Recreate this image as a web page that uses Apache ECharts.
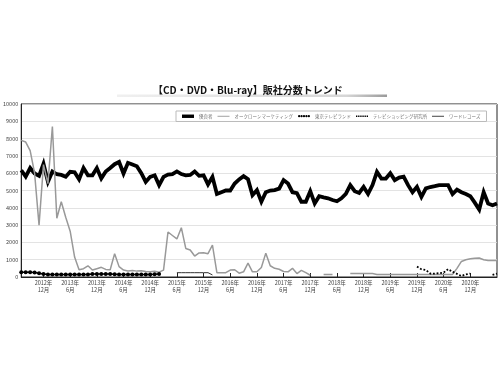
<!DOCTYPE html>
<html>
<head>
<meta charset="utf-8">
<script src="https://cdn.jsdelivr.net/npm/echarts@6/dist/echarts.min.js"></script>
<style>
html,body{margin:0;padding:0;background:#fff;}
#chart{width:500px;height:375px;}
</style>
</head>
<body>
<div id="chart"></div>
<script>
const FONT = '"Noto Sans CJK JP", "Noto Sans", sans-serif';

const titleText = '【CD・DVD・Blu-ray】販社分数トレンド';
const seriesNames = ['優良者', 'オークローンマーケティング', '東京テレビランド', 'テレビショッピング研究所', 'ワードレコーズ'];

const categories = [
  '2012/7','2012/8','2012/9','2012/10','2012/11','2012/12',
  '2013/1','2013/2','2013/3','2013/4','2013/5','2013/6','2013/7','2013/8','2013/9','2013/10','2013/11','2013/12',
  '2014/1','2014/2','2014/3','2014/4','2014/5','2014/6','2014/7','2014/8','2014/9','2014/10','2014/11','2014/12',
  '2015/1','2015/2','2015/3','2015/4','2015/5','2015/6','2015/7','2015/8','2015/9','2015/10','2015/11','2015/12',
  '2016/1','2016/2','2016/3','2016/4','2016/5','2016/6','2016/7','2016/8','2016/9','2016/10','2016/11','2016/12',
  '2017/1','2017/2','2017/3','2017/4','2017/5','2017/6','2017/7','2017/8','2017/9','2017/10','2017/11','2017/12',
  '2018/1','2018/2','2018/3','2018/4','2018/5','2018/6','2018/7','2018/8','2018/9','2018/10','2018/11','2018/12',
  '2019/1','2019/2','2019/3','2019/4','2019/5','2019/6','2019/7','2019/8','2019/9','2019/10','2019/11','2019/12',
  '2020/1','2020/2','2020/3','2020/4','2020/5','2020/6','2020/7','2020/8','2020/9','2020/10','2020/11','2020/12',
  '2021/1','2021/2','2021/3','2021/4','2021/5','2021/6'
];

const yuryosha = [
  6170,5800,6300,5980,5850,6550,5500,6100,5940,5900,5800,6080,6050,5650,6300,5880,5880,6300,
  5700,6100,6300,6520,6650,5980,6600,6500,6400,6000,5500,5790,5880,5310,5790,5920,5950,6100,
  5950,5880,5900,6100,5850,5880,5350,5790,4800,4900,5000,5000,5400,5640,5830,5650,4730,5020,
  4350,4900,5000,5020,5110,5600,5400,4900,4850,4350,4350,4960,4250,4670,4600,4550,4450,4380,
  4550,4800,5310,4960,4860,5210,4800,5310,6080,5690,5690,6000,5600,5750,5800,5310,4900,5210,
  4630,5120,5200,5250,5310,5310,5310,4790,5050,4900,4800,4670,4300,3900,4900,4250,4150,4250
];

const oakLawn = [
  7900,7800,7300,6000,3000,6500,5400,8700,3400,4350,3450,2650,1150,420,480,650,400,480,
  560,440,420,1350,600,400,350,380,340,360,320,300,330,280,400,2600,2400,2200,
  2850,1650,1560,1210,1390,1400,1350,1850,250,250,250,400,420,220,300,800,300,300,
  550,1380,650,500,450,320,300,500,200,380,250,100,null,null,150,150,150,null,
  null,null,200,200,200,200,200,200,150,150,150,150,150,150,150,150,150,150,
  150,150,150,150,150,150,150,150,500,900,1000,1050,1080,1100,1000,950,950,950
];

const tokyoTvLand = [
  270,270,270,260,220,170,150,150,150,150,150,150,150,150,150,150,170,180,
  180,180,170,160,150,150,150,150,150,150,150,150,160,170,null,null,null,null,
  null,null,null,null,null,null,null,null,null,null,null,null,null,null,null,null,null,null,
  null,null,null,null,null,null,null,null,null,null,null,null,null,null,null,null,null,null,
  null,null,null,null,null,null,null,null,null,null,null,null,null,null,null,null,null,null,
  null,null,null,null,null,null,null,null,null,null,null,null,null,null,null,null,null,null
];

const tvShoppingLab = [
  null,null,null,null,null,null,null,null,null,null,null,null,null,null,null,null,null,null,
  null,null,null,null,null,null,null,null,null,null,null,null,null,null,null,null,null,null,
  null,null,null,null,null,null,null,null,null,null,null,null,null,null,null,null,null,null,
  null,null,null,null,null,null,null,null,null,null,null,null,null,null,null,null,null,null,
  null,null,null,null,null,null,null,null,null,null,null,null,null,null,null,null,null,600,
  450,400,200,200,220,260,450,300,180,60,150,200,null,null,null,null,120,200
];

const wardRecords = [
  null,null,null,null,null,null,null,null,null,null,null,null,null,null,null,null,null,null,
  null,null,null,null,null,null,null,null,null,null,null,null,null,null,null,null,null,250,
  250,250,250,250,250,250,250,120,null,null,null,null,null,null,null,null,null,null,
  null,null,null,null,null,null,null,null,null,null,null,null,null,null,null,null,null,null,
  null,null,null,null,null,null,null,null,null,null,null,null,null,null,null,null,null,null,
  null,null,null,null,null,null,null,null,null,null,null,null,null,null,null,null,null,null
];

const lastIdx = categories.length - 1;
function isHalfYear(idx, val) {
  if (idx === lastIdx) return false;
  const m = String(val).split('/')[1];
  return m === '6' || m === '12';
}

const ICON_THICK = 'path://M0,0h14v4h-14z';
const ICON_THIN = 'path://M0,0h26v2h-26z';
const ICON_DOTS = 'path://M0.2,1.2a1.2,1.2 0 1,0 2.4,0a1.2,1.2 0 1,0 -2.4,0z M2.8,1.2a1.2,1.2 0 1,0 2.4,0a1.2,1.2 0 1,0 -2.4,0z M5.4,1.2a1.2,1.2 0 1,0 2.4,0a1.2,1.2 0 1,0 -2.4,0z M8,1.2a1.2,1.2 0 1,0 2.4,0a1.2,1.2 0 1,0 -2.4,0z M10.6,1.2a1.2,1.2 0 1,0 2.4,0a1.2,1.2 0 1,0 -2.4,0z';
const ICON_DOTTED = 'path://M0,0h1.4v1.4h-1.4z M2.2,0h1.4v1.4h-1.4z M4.4,0h1.4v1.4h-1.4z M6.6,0h1.4v1.4h-1.4z M8.8,0h1.4v1.4h-1.4z M11,0h1.4v1.4h-1.4z';

const chart = echarts.init(document.getElementById('chart'), null, {renderer: 'canvas'});
chart.setOption({
  backgroundColor: '#ffffff',
  animation: false,
  textStyle: {fontFamily: FONT},
  title: {
    text: titleText,
    left: 153,
    top: 85,
    padding: 0,
    textStyle: {fontFamily: FONT, fontSize: 10, fontWeight: 'bold', color: '#111'}
  },
  graphic: [{
    type: 'rect',
    z: -1,
    shape: {x: 117, y: 94.5, width: 270, height: 2.5},
    style: {
      fill: new echarts.graphic.LinearGradient(0, 0, 1, 0, [
        {offset: 0, color: '#f0f0f0'},
        {offset: 0.85, color: '#d6d6d6'},
        {offset: 1, color: '#9a9a9a'}
      ])
    }
  }],
  legend: {
    left: 176,
    top: 111,
    width: 340,
    padding: [3, 6, 3, 6],
    itemGap: 5,
    itemWidth: 12,
    itemHeight: 5,
    symbolKeepAspect: true,
    backgroundColor: '#fff',
    borderColor: '#bbb',
    borderWidth: 1,
    borderRadius: 0,
    textStyle: {fontFamily: FONT, fontSize: 4.5, color: '#777'},
    data: [
      {name: seriesNames[0], icon: ICON_THICK},
      {name: seriesNames[1], icon: ICON_THIN},
      {name: seriesNames[2], icon: ICON_DOTS},
      {name: seriesNames[3], icon: ICON_DOTTED},
      {name: seriesNames[4], icon: ICON_THIN}
    ]
  },
  grid: {
    left: 20, right: 3, top: 104, bottom: 98,
    show: true, borderColor: '#222', borderWidth: 1
  },
  xAxis: {
    type: 'category',
    boundaryGap: false,
    data: categories,
    axisLine: {lineStyle: {color: '#222', width: 1}},
    axisTick: {show: true, inside: true, length: 4, interval: isHalfYear, lineStyle: {color: '#222'}},
    axisLabel: {
      interval: isHalfYear,
      fontSize: 5.5,
      lineHeight: 6.5,
      color: '#444',
      margin: 3,
      fontFamily: FONT,
      formatter: function (val) {
        const p = val.split('/');
        return p[0] + '年\n' + p[1] + '月';
      }
    },
    splitLine: {show: false}
  },
  yAxis: {
    type: 'value',
    min: 0, max: 10000, interval: 1000,
    axisLine: {show: true, lineStyle: {color: '#222'}},
    axisTick: {show: false},
    axisLabel: {fontSize: 5.5, color: '#444', margin: 3, fontFamily: FONT, formatter: function (v) { return String(v); }},
    splitLine: {lineStyle: {color: '#dcdcdc', width: 0.8}}
  },
  series: [
    {
      name: seriesNames[0], type: 'line', data: yuryosha, symbol: 'none',
      lineStyle: {color: '#000', width: 3.8, join: 'miter'}, itemStyle: {color: '#000'}
    },
    {
      name: seriesNames[1], type: 'line', data: oakLawn, symbol: 'none',
      lineStyle: {color: '#999', width: 1.5}, itemStyle: {color: '#999'}
    },
    {
      name: seriesNames[2], type: 'line', data: tokyoTvLand, symbol: 'circle', symbolSize: 4,
      showAllSymbol: true,
      lineStyle: {color: '#000', width: 1.5}, itemStyle: {color: '#000'}
    },
    {
      name: seriesNames[3], type: 'line', data: tvShoppingLab, symbol: 'none',
      lineStyle: {color: '#000', width: 1.8, type: 'dotted'}, itemStyle: {color: '#000'}
    },
    {
      name: seriesNames[4], type: 'line', data: wardRecords, symbol: 'none',
      lineStyle: {color: '#333', width: 1}, itemStyle: {color: '#333'}
    }
  ]
});
</script>
</body>
</html>
